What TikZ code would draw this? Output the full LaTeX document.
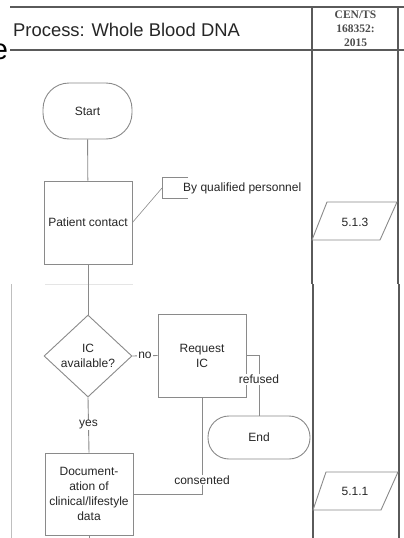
\documentclass[tikz,border=0pt]{standalone}
\usepackage{fontspec}
\setmainfont{Liberation Sans}
\newfontfamily\serifbold{Liberation Serif}
\usetikzlibrary{shapes.geometric}
\definecolor{shapegray}{HTML}{8A8A8A}
\definecolor{lanegray}{HTML}{5A5A5A}
\definecolor{txt}{HTML}{262626}
\tikzset{
  box/.style={draw=shapegray, line width=0.9pt, fill=white, minimum width=88pt, minimum height=83pt, inner sep=0pt, align=center, font=\fontsize{12}{15}\selectfont, text=txt},
  stadium/.style={draw=shapegray, line width=0.9pt, fill=white, rounded corners=21pt, inner sep=0pt, align=center, font=\fontsize{12}{15}\selectfont, text=txt},
  dia/.style={diamond, draw=shapegray, line width=0.9pt, fill=white, minimum width=88pt, minimum height=82pt, inner sep=0pt, align=center, font=\fontsize{12}{15}\selectfont, text=txt},
  conn/.style={draw=shapegray, line width=0.9pt},
  lbl/.style={fill=white, inner sep=1pt, font=\fontsize{12}{14}\selectfont, text=txt},
  lane/.style={draw=lanegray, line width=1.8pt},
  hdr/.style={draw=lanegray, line width=1.3pt},
  ptext/.style={font=\fontsize{12}{14}\selectfont, text=txt, inner sep=0pt},
}
\begin{document}
\begin{tikzpicture}[x=1pt,y=-1pt]
\useasboundingbox (0,0) rectangle (404,538);
\fill[white] (0,0) rectangle (404,538);
% header
\draw[hdr] (10,7) -- (404,7);
\draw[hdr] (10,50) -- (404,50);
\node[anchor=base, font=\fontsize{29}{29}\selectfont, text=black, inner sep=0pt] (cutE) at (0,59) {e};
\node[anchor=west, inner sep=0pt, font=\fontsize{18.4}{20}\selectfont, text=txt] (title) at (13,30) {Process: Whole Blood DNA};
\node[align=center, inner sep=0pt, font=\serifbold\bfseries\fontsize{11.5}{14}\selectfont, text=black!70] (cen) at (355.5,29) {CEN/TS\\168352:\\2015};
% lanes
\draw[lane] (312,7) -- (312,284);
\draw[lane] (398,7) -- (398,284);
\draw[lane] (313,284) -- (313,538);
\draw[lane] (399,284) -- (399,538);
\draw[draw=black!25, line width=0.8pt] (11,284) -- (11,538);
\draw[draw=black!10, line width=0.8pt] (45,284) -- (133,284);
% nodes
\node[stadium, rounded corners=26pt, minimum width=89pt, minimum height=56pt] (start) at (87.5,111) {Start};
\node[box] (patient) at (88,222.5) {Patient contact};
\node[dia] (ic) at (88,356) {IC\\available?};
\node[box] (req) at (202,355.5) {Request\\IC};
\node[stadium, minimum width=102pt, minimum height=43pt] (end) at (259,437.5) {End};
\node[box, minimum height=82pt] (doc) at (89,494) {Document-\\ation of\\clinical/lifestyle\\data};
% annotation
\draw[conn] (188,177) -- (162,177) -- (162,198) -- (188,198);
\coordinate (annot) at (162,188);
\node[ptext, anchor=west] (annottext) at (183,188) {By qualified personnel};
\draw[conn, line width=0.6pt] (patient.east) -- (annot);
% references
\draw[conn] (327,202) -- (397,202) -- (380,240) -- (312,240) -- cycle;
\node[ptext] (r513) at (355,222) {5.1.3};
\draw[conn] (326,472) -- (398,472) -- (381,510) -- (313,510) -- cycle;
\node[ptext] (r511) at (355,491) {5.1.1};
% connectors
\coordinate (bottom) at (89,540);
\draw[conn] (start) -- (patient);
\draw[conn] (patient.south) -- (ic.north);
\draw[conn] (ic.east) -- node[lbl] {no} (req.west);
\draw[conn] (req.east) -| node[lbl, pos=0.7] {refused} (end.north);
\draw[conn] (ic.south) -- node[lbl, pos=0.5] {yes} (doc.north);
\draw[conn] (doc.east) -| (req.south);
\node[lbl] (cons) at (202,480) {consented};
\draw[conn] (doc.south) -- (bottom);
\end{tikzpicture}
\end{document}
